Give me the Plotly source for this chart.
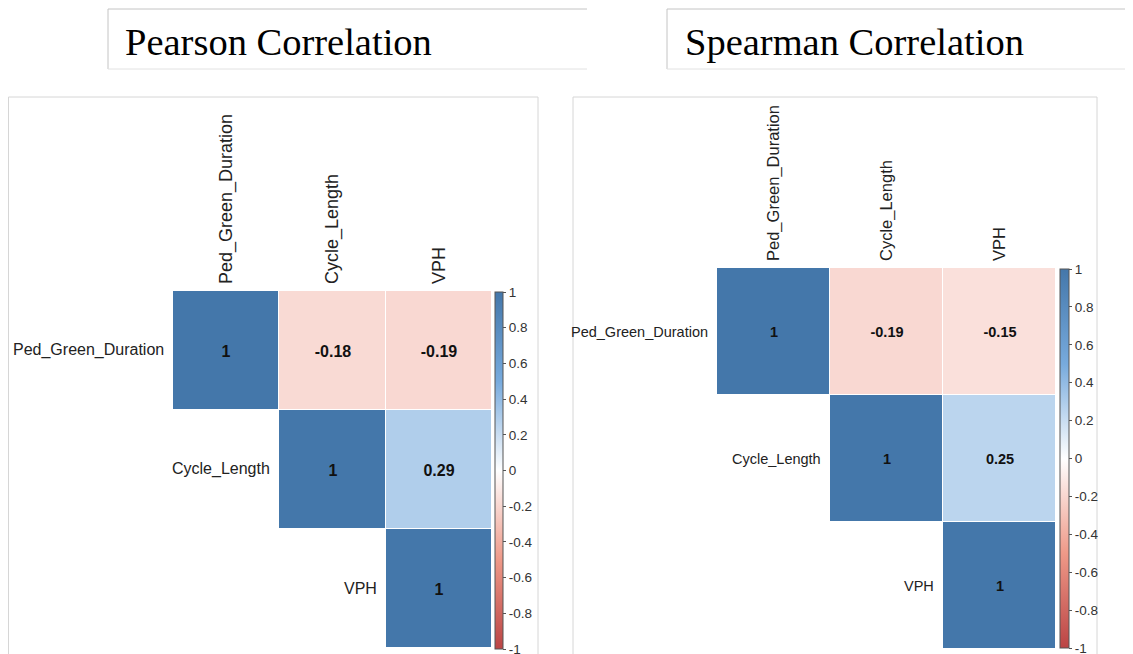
import plotly.graph_objects as go

W, H = 1133, 654
OFF = 8  # page body margin of the html page
FW, FH = W - OFF, H - OFF

labels = ["Ped_Green_Duration", "Cycle_Length", "VPH"]
pearson = [[1, -0.18, -0.19],
           [None, 1, 0.29],
           [None, None, 1]]
spearman = [[1, -0.19, -0.15],
            [None, 1, 0.25],
            [None, None, 1]]
cbar_vals = [1, 0.8, 0.6, 0.4, 0.2, 0, -0.2, -0.4, -0.6, -0.8, -1]
cbar_text = ["1", "0.8", "0.6", "0.4", "0.2", "0", "-0.2", "-0.4", "-0.6", "-0.8", "-1"]
titles = ["Pearson Correlation", "Spearman Correlation"]

SANS = "Liberation Sans, Arial, sans-serif"
SERIF = "Liberation Serif, Times New Roman, serif"
colorscale = [[0, "#BB4444"], [0.25, "#EE9988"], [0.5, "#FFFFFF"],
              [0.75, "#77AADD"], [1, "#4477AA"]]


def px(x):
    return (x - OFF) / FW


def py(y):
    return 1 - (y - OFF) / FH


def fmt(v):
    if v is None:
        return ""
    return "1" if v == 1 else f"{v:.2f}"


# panel geometry (pixels in the reference)
panels = [
    dict(z=pearson, x0=173, x1=492, y0=291, y1=648, cbx=495, cbw=8, cby0=292, cby1=649,
         lab=16, top=18, val=16, tick=13.5),
    dict(z=spearman, x0=717, x1=1056, y0=268, y1=649, cbx=1060, cbw=9, cby0=269, cby1=648,
         lab=14.5, top=16.5, val=14.5, tick=13.5),
]

fig = go.Figure()
annotations = []
for k, p in enumerate(panels):
    xa = "x" if k == 0 else "x2"
    ya = "y" if k == 0 else "y2"
    fig.add_trace(go.Heatmap(
        z=p["z"], x=labels, y=labels,
        text=[[fmt(v) for v in row] for row in p["z"]],
        texttemplate="<b>%{text}</b>",
        textfont=dict(family=SANS, size=p["val"], color="#111111"),
        zmin=-1, zmax=1, colorscale=colorscale, xgap=1, ygap=1,
        hoverongaps=False,
        xaxis=xa, yaxis=ya,
        colorbar=dict(
            thickness=p["cbw"], thicknessmode="pixels",
            len=p["cby1"] - p["cby0"], lenmode="pixels",
            x=px(p["cbx"]), xanchor="left", y=py(p["cby0"]), yanchor="top",
            outlinewidth=1, outlinecolor="#555555",
            tickvals=cbar_vals, ticktext=cbar_text,
            ticks="outside", ticklen=3, tickcolor="#555555", tickwidth=1,
            ticklabeloverflow="allow",
            tickfont=dict(family=SANS, size=p["tick"], color="#333333"),
            xpad=0, ypad=0,
        ),
    ))
    axkey = "xaxis" if k == 0 else "xaxis2"
    aykey = "yaxis" if k == 0 else "yaxis2"
    fig.update_layout(**{
        axkey: dict(domain=[px(p["x0"]), px(p["x1"])], range=[-0.5, 2.5], side="top",
                    tickangle=-90, showgrid=False, zeroline=False, showline=False,
                    ticks="", ticklabelstandoff=6, anchor=ya,
                    tickfont=dict(family=SANS, size=p["top"], color="#222222"),
                    fixedrange=True),
        aykey: dict(domain=[py(p["y1"]), py(p["y0"])], range=[2.5, -0.5],
                    showgrid=False, zeroline=False, showline=False,
                    showticklabels=False, ticks="", anchor=xa, fixedrange=True),
    })
    for i, lab in enumerate(labels):
        annotations.append(dict(
            x=i - 0.5, y=i, xref=xa, yref=ya, text=lab, showarrow=False,
            xanchor="right", yanchor="middle", xshift=-7,
            font=dict(family=SANS, size=p["lab"], color="#222222")))

# title texts
annotations.append(dict(x=px(123), y=py(42), xref="paper", yref="paper", text=titles[0],
                        showarrow=False, xanchor="left", yanchor="middle",
                        font=dict(family=SERIF, size=38.5, color="#000000")))
annotations.append(dict(x=px(683), y=py(42), xref="paper", yref="paper", text=titles[1],
                        showarrow=False, xanchor="left", yanchor="middle",
                        font=dict(family=SERIF, size=38.5, color="#000000")))


def line(x0, y0, x1, y1, color):
    return dict(type="line", xref="paper", yref="paper", x0=px(x0), y0=py(y0),
                x1=px(x1), y1=py(y1), line=dict(color=color, width=1))


shapes = [
    # title boxes
    line(108, 9, 587, 9, "#c4c4c4"), line(108, 9, 108, 69, "#c4c4c4"),
    line(108, 69, 587, 69, "#e2e2e2"),
    line(667, 9, 1133, 9, "#c4c4c4"), line(667, 9, 667, 69, "#c4c4c4"),
    line(667, 69, 1133, 69, "#e2e2e2"),
    # panel borders
    line(8.5, 97, 538, 97, "#d6d6d6"), line(8.5, 97, 8.5, 654, "#d6d6d6"),
    line(538, 97, 538, 654, "#d6d6d6"),
    line(573, 97, 1097, 97, "#d6d6d6"), line(573, 97, 573, 654, "#d6d6d6"),
    line(1097, 97, 1097, 654, "#d6d6d6"),
]

fig.update_layout(width=FW, height=FH, margin=dict(l=0, r=0, t=0, b=0),
                  paper_bgcolor="white", plot_bgcolor="white",
                  annotations=annotations, shapes=shapes, showlegend=False)

fig.write_html("out.html")
